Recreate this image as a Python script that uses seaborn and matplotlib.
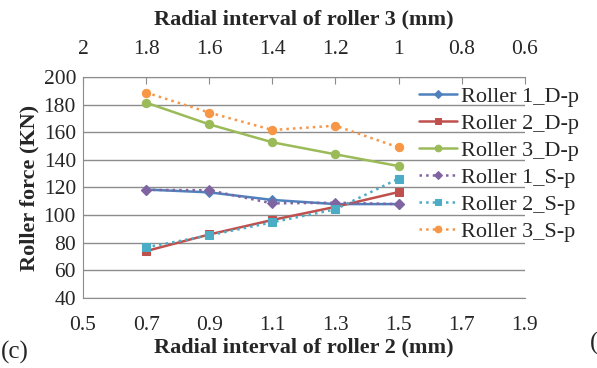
import matplotlib
matplotlib.use("Agg")
import matplotlib.pyplot as plt
import seaborn as sns
import pandas as pd

sns.set_style("white")
plt.rcParams['font.family'] = ['Liberation Serif', 'DejaVu Serif']

x_roller2 = [0.7, 0.9, 1.1, 1.3, 1.5]
r1_dp = [118.5, 116.5, 111, 108, 108]
r2_dp = [74, 86, 96.5, 106, 116.7]
r3_dp = [181.4, 165.7, 152.7, 144, 135.5]
r1_sp = [118.3, 118, 108.5, 109, 108]
r2_sp = [76.7, 85.4, 94.8, 104.2, 126.4]
r3_sp = [188.7, 174.2, 161.6, 164.7, 149]

bottom_ticks = [0.5, 0.7, 0.9, 1.1, 1.3, 1.5, 1.7, 1.9]
top_ticks = [2, 1.8, 1.6, 1.4, 1.2, 1, 0.8, 0.6]
top_labels = ["2", "1.8", "1.6", "1.4", "1.2", "1", "0.8", "0.6"]
y_ticks = [40, 60, 80, 100, 120, 140, 160, 180, 200]

series = [
    ("Roller 1_D-p", r1_dp, "#4F81BD", "D", "-", 5),
    ("Roller 2_D-p", r2_dp, "#C0504D", "s", "-", 5.5),
    ("Roller 3_D-p", r3_dp, "#9BBB59", "o", "-", 6),
    ("Roller 1_S-p", r1_sp, "#8064A2", "D", ":", 5),
    ("Roller 2_S-p", r2_sp, "#4BACC6", "s", ":", 5.5),
    ("Roller 3_S-p", r3_sp, "#F79646", "o", ":", 6),
]

fig = plt.figure(figsize=(5.97, 3.68), dpi=100)
ax = fig.add_axes([0.139, 0.190, 0.879 - 0.139, 0.791 - 0.190])

for name, vals, col, mk, ls, ms in series:
    df = pd.DataFrame({"x": x_roller2, "y": vals})
    sns.lineplot(data=df, x="x", y="y", ax=ax, color=col, marker=mk,
                 markersize=ms, markeredgecolor=col, linestyle=ls,
                 linewidth=1.8, label=name, zorder=3)

TICK_FS = 15.5
LABEL_FS = 16

ax.set_xlim(0.5, 1.9)
ax.set_ylim(40, 200)
ax.set_xticks(bottom_ticks)
ax.set_xticklabels([f"{t:.1f}" for t in bottom_ticks])
ax.set_yticks(y_ticks)
ax.grid(axis='y', color='#8c8c8c', linewidth=1.0)
ax.grid(axis='x', visible=False)
for s in ['left', 'bottom', 'top', 'right']:
    ax.spines[s].set_color('#8c8c8c')
ax.spines['right'].set_visible(False)
ax.tick_params(axis='x', direction='in', length=5, color='#8c8c8c',
               labelsize=TICK_FS, pad=13, top=True)
ax.tick_params(axis='y', length=0, labelsize=TICK_FS, pad=5)
ax.set_xlabel("Radial interval of roller 2 (mm)", fontsize=LABEL_FS,
              fontweight='bold', labelpad=2)
ax.set_ylabel("Roller force (KN)", fontsize=LABEL_FS, fontweight='bold',
              labelpad=3)

sec = ax.secondary_xaxis('top', functions=(lambda v: 2.5 - v, lambda t: 2.5 - t))
sec.set_xticks(top_ticks)
sec.set_xticklabels(top_labels)
sec.tick_params(length=0, labelsize=TICK_FS, pad=13)
sec.spines['top'].set_visible(False)
sec.set_xlabel("Radial interval of roller 3 (mm)", fontsize=LABEL_FS,
               fontweight='bold', labelpad=11)

leg = ax.legend(loc='upper left', bbox_to_anchor=(0.76, 0.957), frameon=False,
                fontsize=16, handlelength=1.7, handletextpad=0.2,
                labelspacing=0.29, borderpad=0, borderaxespad=0,
                markerscale=0.8)

fig.text(0.002, 0.012, "(c)", fontsize=18, ha='left', va='bottom')
fig.text(0.988, 0.035, "(", fontsize=18, ha='left', va='bottom')

fig.savefig("out.png", dpi=100)
